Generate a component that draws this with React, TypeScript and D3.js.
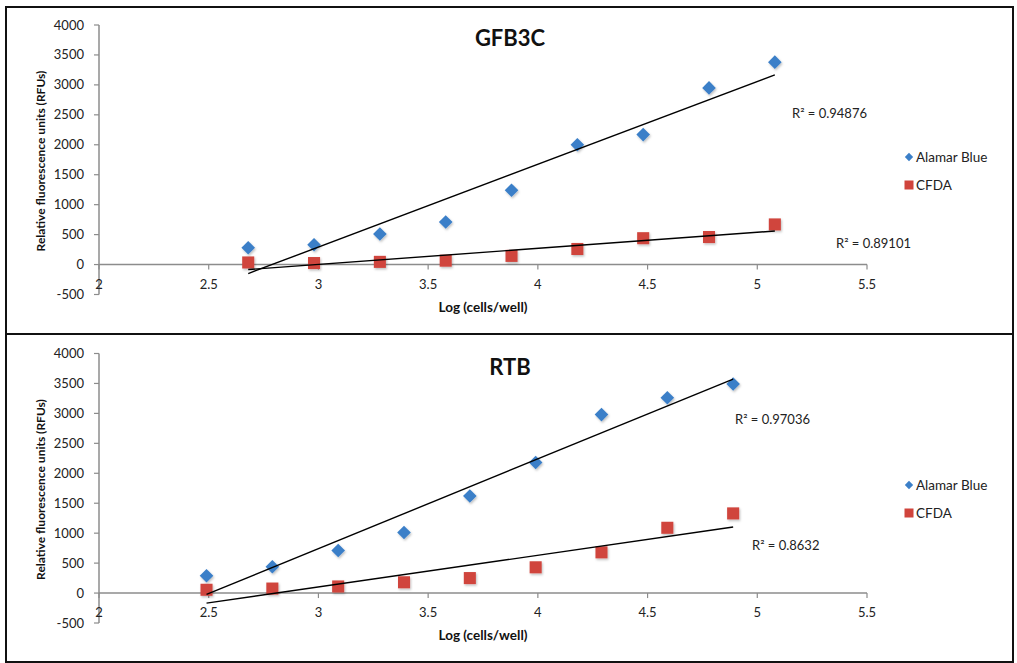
import React from "react";
import * as d3 from "d3";

const xTicks = [2, 2.5, 3, 3.5, 4, 4.5, 5, 5.5];
const yTicks = [-500, 0, 500, 1000, 1500, 2000, 2500, 3000, 3500, 4000];

const gfbX = [2.68, 2.98, 3.28, 3.58, 3.88, 4.18, 4.48, 4.78, 5.08];
const gfbAlamar = [280, 330, 510, 710, 1240, 2000, 2170, 2950, 3380];
const gfbCfda = [35, 25, 45, 65, 145, 260, 440, 460, 670];

const rtbX = [2.49, 2.79, 3.09, 3.39, 3.69, 3.99, 4.29, 4.59, 4.89];
const rtbAlamar = [290, 440, 710, 1010, 1620, 2180, 2980, 3260, 3490];
const rtbCfda = [55, 75, 110, 180, 250, 430, 680, 1090, 1330];

const seriesNames = ["Alamar Blue", "CFDA"];
const gfbR2 = ["R² = 0.94876", "R² = 0.89101"];
const rtbR2 = ["R² = 0.97036", "R² = 0.8632"];

const BLUE = "#3b7fc8";
const RED = "#d0443c";
const FONT = "Lato, 'Open Sans', sans-serif";

function fit(xs: number[], ys: number[]) {
  const mx = d3.mean(xs)!;
  const my = d3.mean(ys)!;
  let num = 0, den = 0;
  xs.forEach((x, i) => { num += (x - mx) * (ys[i] - my); den += (x - mx) ** 2; });
  const b = num / den;
  const a = my - b * mx;
  return (x: number) => a + b * x;
}

type PanelProps = {
  top: number;
  title: string;
  xs: number[];
  alamar: number[];
  cfda: number[];
  r2: string[];
  r2Pos: { x: number; y: number }[];
  legendY: number;
};

const xScale = d3.scaleLinear().domain([2, 5.5]).range([99, 867]);

function Panel({ top, title, xs, alamar, cfda, r2, r2Pos, legendY }: PanelProps) {
  const y = d3.scaleLinear().domain([-500, 4000]).range([top + 287.5, top + 18]);
  const y0 = y(0);
  const fa = fit(xs, alamar);
  const fc = fit(xs, cfda);
  const ends = [d3.min(xs)!, d3.max(xs)!];
  const trend = (f: (x: number) => number) =>
    d3.line<number>().x((d) => xScale(d)).y((d) => y(f(d)))(ends) || "";
  const diamond = d3.symbol().type(d3.symbolDiamond2).size(118)()!;
  const square = d3.symbol().type(d3.symbolSquare2).size(185)()!;
  return (
    <g>
      {/* y axis */}
      <line x1={xScale(2)} x2={xScale(2)} y1={y(4000)} y2={y(-500)} stroke="#8c8c8c" strokeWidth={1.5} />
      {yTicks.map((t) => (
        <g key={t}>
          <line x1={xScale(2) - 5} x2={xScale(2)} y1={y(t)} y2={y(t)} stroke="#8c8c8c" strokeWidth={1.2} />
          <text x={84} y={y(t)} dy="0.35em" textAnchor="end" fontSize={13} fill="#222" fontFamily={FONT}>{t}</text>
        </g>
      ))}
      {/* x axis at zero */}
      <line x1={xScale(2)} x2={xScale(5.5)} y1={y0} y2={y0} stroke="#8c8c8c" strokeWidth={1.5} />
      {xTicks.map((t) => (
        <g key={t}>
          <line x1={xScale(t)} x2={xScale(t)} y1={y0} y2={y0 + 5} stroke="#8c8c8c" strokeWidth={1.2} />
          <text x={xScale(t)} y={y0 + 24} textAnchor="middle" fontSize={13} fill="#222" fontFamily={FONT}>{t}</text>
        </g>
      ))}
      {/* axis titles */}
      <text transform={`translate(45,${top + 154}) rotate(-90)`} textAnchor="middle" fontSize={12} fontWeight="bold" fill="#111" fontFamily={FONT}>
        Relative fluorescence units (RFUs)
      </text>
      <text x={483} y={y0 + 47} textAnchor="middle" fontSize={13.5} fontWeight="bold" fill="#111" fontFamily={FONT}>
        Log (cells/well)
      </text>
      {/* title */}
      <text x={510} y={top + 39} textAnchor="middle" fontSize={22} fontWeight="bold" fill="#111" fontFamily={FONT}>{title}</text>
      {/* markers */}
      {xs.map((x, i) => (
        <path key={"a" + i} d={diamond} transform={`translate(${xScale(x)},${y(alamar[i])})`} fill={BLUE} filter="url(#sh)" />
      ))}
      {xs.map((x, i) => (
        <path key={"c" + i} d={square} transform={`translate(${xScale(x)},${y(cfda[i])})`} fill={RED} filter="url(#sh)" />
      ))}
      {/* trend lines */}
      <path d={trend(fa)} stroke="#000" strokeWidth={1.4} fill="none" />
      <path d={trend(fc)} stroke="#000" strokeWidth={1.4} fill="none" />
      {/* R2 labels */}
      {r2.map((s, i) => (
        <text key={s} x={r2Pos[i].x} y={r2Pos[i].y} dy="0.35em" fontSize={13} fill="#222" fontFamily={FONT}>{s}</text>
      ))}
      {/* legend */}
      <path d={d3.symbol().type(d3.symbolDiamond2).size(44)()!} transform={`translate(909,${legendY})`} fill={BLUE} />
      <text x={916} y={legendY} dy="0.35em" fontSize={13.5} fill="#222" fontFamily={FONT}>{seriesNames[0]}</text>
      <rect x={904.5} y={legendY + 23.5} width={9} height={9} fill={RED} />
      <text x={916} y={legendY + 28} dy="0.35em" fontSize={13.5} fill="#222" fontFamily={FONT}>{seriesNames[1]}</text>
    </g>
  );
}

export default function App() {
  return (
    <svg width={1017} height={663} style={{ position: "absolute", left: 0, top: 0, background: "#fff" }}>
      <defs>
        <filter id="sh" x="-50%" y="-50%" width="200%" height="200%">
          <feDropShadow dx="1" dy="1.5" stdDeviation="1" floodColor="#000" floodOpacity="0.25" />
        </filter>
      </defs>
      <rect x={0} y={0} width={1017} height={663} fill="#fff" />
      <rect x={6} y={7} width={1007} height={327} fill="none" stroke="#111" strokeWidth={2} />
      <rect x={6} y={334} width={1007} height={328} fill="none" stroke="#111" strokeWidth={2} />
      <Panel
        top={7}
        title="GFB3C"
        xs={gfbX}
        alamar={gfbAlamar}
        cfda={gfbCfda}
        r2={gfbR2}
        r2Pos={[{ x: 792, y: 113 }, { x: 836, y: 243 }]}
        legendY={157}
      />
      <Panel
        top={335.5}
        title="RTB"
        xs={rtbX}
        alamar={rtbAlamar}
        cfda={rtbCfda}
        r2={rtbR2}
        r2Pos={[{ x: 735, y: 419 }, { x: 752, y: 545 }]}
        legendY={485}
      />
    </svg>
  );
}
